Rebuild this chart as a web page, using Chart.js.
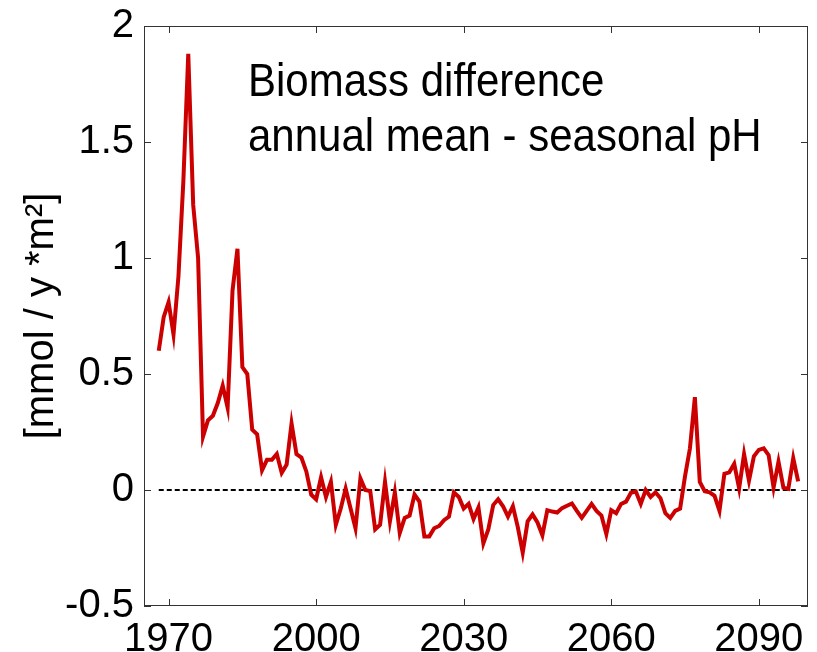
<!DOCTYPE html>
<html>
<head>
<meta charset="utf-8">
<script src="https://cdn.jsdelivr.net/npm/chart.js@4"></script>
<style>
    html, body { margin: 0; padding: 0; background: #fff; }
</style>
</head>
<body>
<canvas id="biomassChart" width="817" height="652"></canvas>
<script>
// annual values, first year 1968
const firstYear = 1968;
const diff1968to1988 = [0.60, 0.745, 0.81, 0.67, 0.92, 1.33, 1.88, 1.23, 1.00, 0.23, 0.30,
    0.32, 0.375, 0.45, 0.355, 0.86, 1.04, 0.53, 0.50, 0.26, 0.24];
const diff1989to2021 = [0.085, 0.13, 0.13, 0.155, 0.074, 0.11, 0.287, 0.155, 0.14, 0.08, -0.02,
    -0.04, 0.055, -0.03, 0.035, -0.15, -0.08, 0.006, -0.08, -0.165, 0.05, 0.0,
    -0.005, -0.17, -0.15, 0.035, -0.135, -0.01, -0.185, -0.12, -0.11, -0.02, -0.05];
const diff2022to2052 = [-0.2, -0.2, -0.165, -0.155, -0.13, -0.115, -0.01, -0.03, -0.08, -0.06,
    -0.125, -0.075, -0.23, -0.17, -0.065, -0.04, -0.07, -0.115, -0.07, -0.16, -0.27,
    -0.135, -0.105, -0.14, -0.195, -0.087, -0.093, -0.097, -0.078, -0.068, -0.058];
const diff2053to2098 = [-0.09, -0.12, -0.09, -0.06, -0.09, -0.11, -0.19, -0.087, -0.1, -0.06,
    -0.05, -0.012, -0.007, -0.06, 0.0, -0.03, -0.01, -0.035, -0.1, -0.12, -0.09, -0.08,
    0.06, 0.18, 0.40, 0.035, -0.005, -0.01, -0.025, -0.09, 0.07, 0.076, 0.113, 0.007,
    0.155, 0.04, 0.145, 0.173, 0.18, 0.15, 0.01, 0.122, 0.01, 0.005, 0.137, 0.037];

const xTicks = [1970, 2000, 2030, 2060, 2090];
const yTicks = [-0.5, 0, 0.5, 1, 1.5, 2];
const titleLines = ['Biomass difference', 'annual mean - seasonal pH'];
const yLabel = '[mmol / y *m\u00B2]';

const values = [...diff1968to1988, ...diff1989to2021, ...diff2022to2052, ...diff2053to2098];
const points = values.map((v, i) => ({ x: firstYear + i, y: v }));
const lastYear = firstYear + values.length - 1;
const zeroLine = [{ x: firstYear, y: 0 }, { x: lastYear, y: 0 }];

const FONT = '"Liberation Sans", Arial, sans-serif';

// matlab style box with inward ticks, plus the text inside the axes
const boxPlugin = {
    id: 'box',
    afterDraw(chart) {
        const { ctx, chartArea: a, scales } = chart;
        ctx.save();
        ctx.strokeStyle = '#333';
        ctx.lineWidth = 1;
        ctx.strokeRect(a.left + 0.5, a.top + 0.5, a.right - a.left - 1, a.bottom - a.top - 1);
        const len = 7;
        ctx.beginPath();
        xTicks.forEach(t => {
            const px = Math.round(scales.x.getPixelForValue(t)) + 0.5;
            ctx.moveTo(px, a.bottom); ctx.lineTo(px, a.bottom - len);
            ctx.moveTo(px, a.top); ctx.lineTo(px, a.top + len);
        });
        yTicks.forEach(t => {
            const py = Math.round(scales.y.getPixelForValue(t)) + 0.5;
            ctx.moveTo(a.left, py); ctx.lineTo(a.left + len, py);
            ctx.moveTo(a.right, py); ctx.lineTo(a.right - len, py);
        });
        ctx.stroke();

        ctx.fillStyle = '#000';
        ctx.font = '42px ' + FONT;
        ctx.textBaseline = 'alphabetic';
        ctx.textAlign = 'left';
        titleLines.forEach((line, i) => {
            ctx.save();
            ctx.translate(a.left + 104, a.top + 70 + i * 55);
            ctx.scale(1, 1.12);
            ctx.fillText(line, 0, 0);
            ctx.restore();
        });
        ctx.restore();
    }
};

new Chart(document.getElementById('biomassChart'), {
    type: 'line',
    data: {
        datasets: [{
            label: 'Biomass difference',
            data: points,
            borderColor: '#cc0000',
            borderWidth: 4,
            pointRadius: 0,
            tension: 0
        }, {
            label: 'zero',
            data: zeroLine,
            borderColor: '#000',
            borderWidth: 2,
            borderDash: [5, 3],
            pointRadius: 0
        }]
    },
    options: {
        responsive: false,
        animation: false,
        layout: { padding: { top: 21, right: 9, bottom: 0, left: 0 } },
        plugins: {
            legend: { display: false },
            tooltip: { enabled: false }
        },
        scales: {
            x: {
                type: 'linear',
                min: 1965,
                max: 2100,
                afterBuildTicks: s => { s.ticks = xTicks.map(v => ({ value: v })); },
                afterFit: s => { s.height = 46; },
                grid: { display: false },
                border: { display: false },
                ticks: {
                    color: '#000',
                    font: { family: FONT, size: 40 },
                    padding: 2,
                    maxRotation: 0,
                    autoSkip: false,
                    callback: v => String(v)
                }
            },
            y: {
                min: -0.5,
                max: 2,
                afterBuildTicks: s => { s.ticks = yTicks.map(v => ({ value: v })); },
                afterFit: s => { s.width = 144; },
                grid: { display: false },
                border: { display: false },
                ticks: {
                    color: '#000',
                    font: { family: FONT, size: 40 },
                    padding: 2,
                    callback: v => String(v)
                },
                title: {
                    display: true,
                    text: yLabel,
                    color: '#000',
                    font: { family: FONT, size: 40 },
                    padding: { top: 18, bottom: 0 }
                }
            }
        }
    },
    plugins: [boxPlugin]
});
</script>
</body>
</html>
